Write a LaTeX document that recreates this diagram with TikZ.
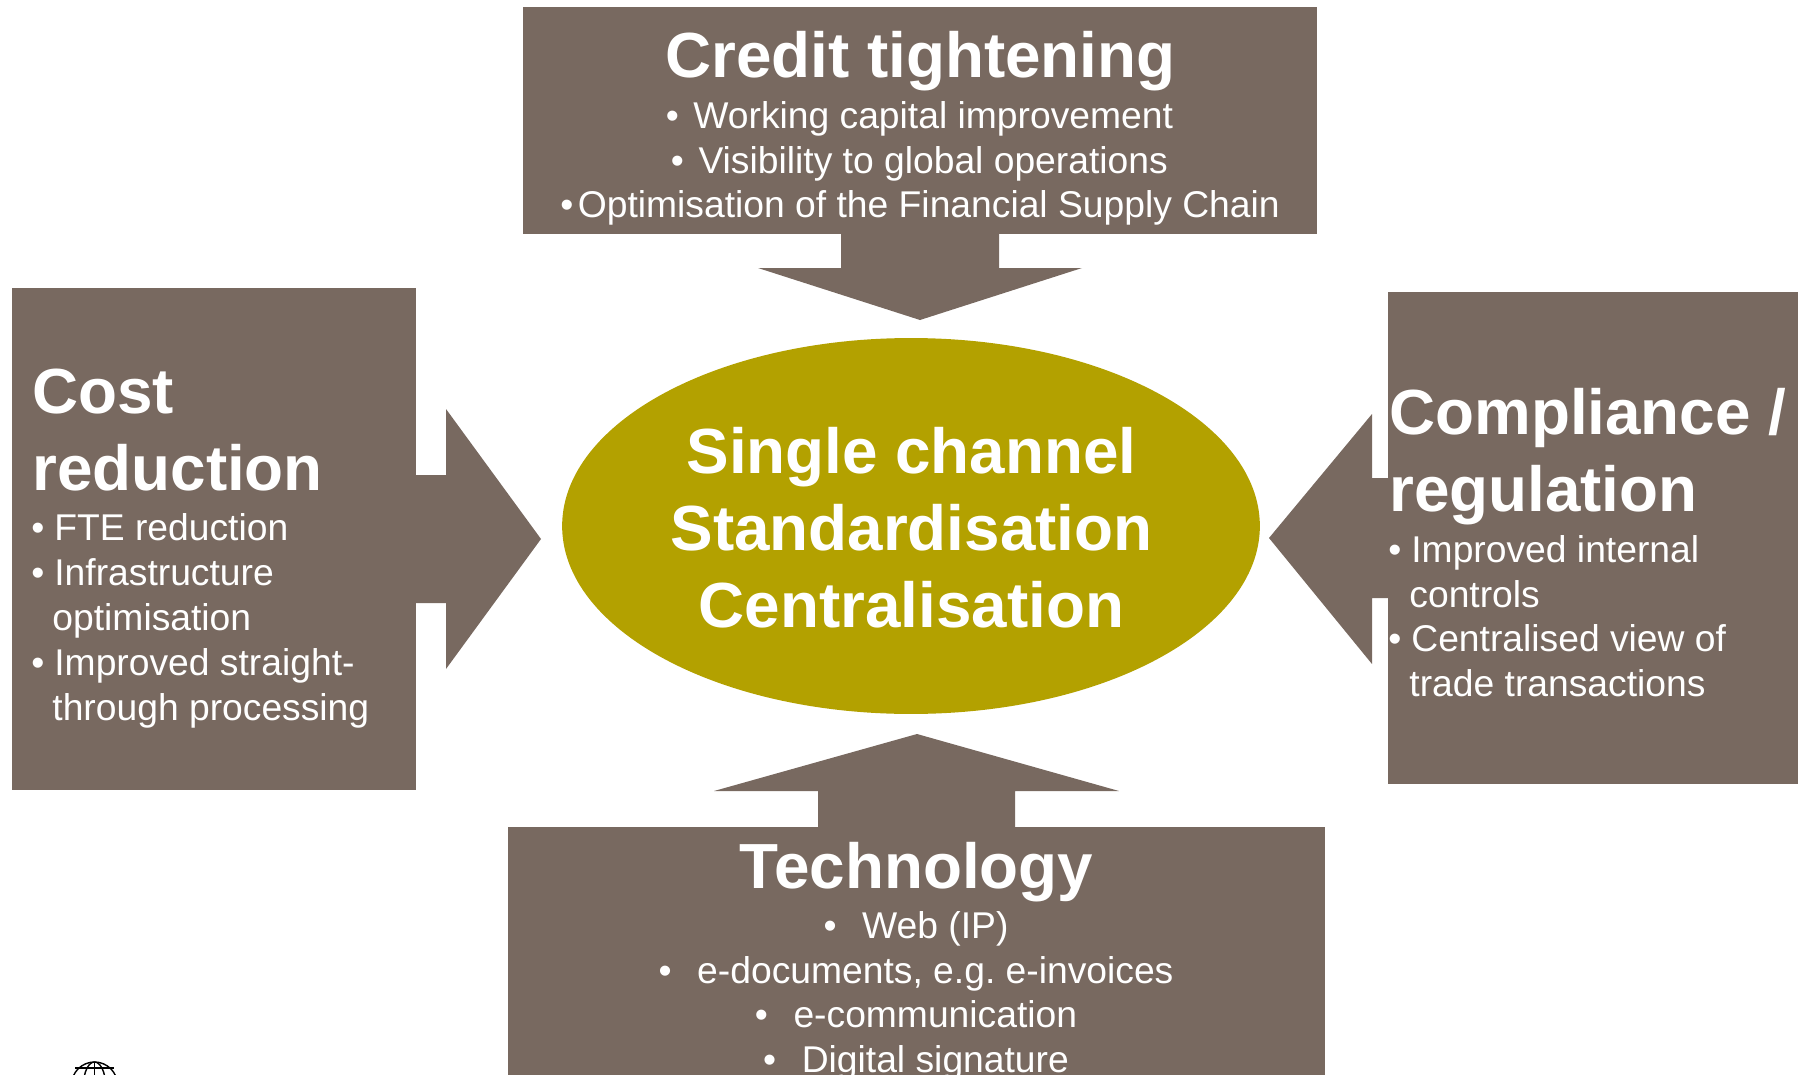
\documentclass[tikz,border=0pt]{standalone}
\usepackage{fontspec}
\setmainfont{Liberation Sans}
\definecolor{boxbrown}{RGB}{120,105,96}
\definecolor{hubolive}{RGB}{179,161,0}

\begin{document}
\begin{tikzpicture}[
        x=0.02cm,y=-0.02cm,
        driver/.style={rectangle,fill=boxbrown,inner sep=0pt},
        push/.style={fill=boxbrown},
        heading/.style={font=\bfseries\fontsize{36.3}{43.8}\selectfont,text=white,inner sep=0pt},
        points/.style={font=\fontsize{21.2}{25.5}\selectfont,text=white,inner sep=0pt},
        globeline/.style={draw=black,line width=0.8pt},
      ]
      \clip (0,0) rectangle (1803,1075);
      \useasboundingbox (0,0) rectangle (1803,1075);
%
      \path[push] (841,233) -- (999,233) -- (999,268) -- (1082,268) -- (920,320) -- (758,268) -- (841,268) -- cycle;
      \path[push] (415,475) -- (446,475) -- (446,409) -- (541,539) -- (446,669) -- (446,603) -- (415,603) -- cycle;
      \path[push] (1388,478) -- (1372,478) -- (1372,414) -- (1269,538) -- (1372,664) -- (1372,598) -- (1388,598) -- cycle;
      \path[push] (818,827) -- (818,791) -- (714,791) -- (917,734) -- (1119,791) -- (1015,791) -- (1015,827) -- cycle;
%
      \node[driver,minimum width=15.88cm,minimum height=4.54cm] at (920,120.5) (Credit) {};
      \node[driver,minimum width=8.08cm,minimum height=10.06cm] at (214,539) (Cost) {};
      \node[driver,minimum width=8.2cm,minimum height=9.84cm] at (1593,538) (Compliance) {};
      \node[driver,minimum width=16.34cm,minimum height=5.5cm] at (916.5,964.5) (Technology) {};
      \node[circle,fill=hubolive,inner sep=0pt,minimum size=7.52cm,xscale=1.856] at (911,526) (Hub) {};
%
      \node[heading,anchor=north] at (920.5,31) (Credittitle) {Credit tightening};
      \node[points,anchor=north,align=center] at (920,101) (Creditlist) {\hspace*{-0.7pt}•\hspace{8.3pt}Working capital improvement\\\hspace*{-0.7pt}•\hspace{8.3pt}Visibility to global operations\\•\hspace{2.6pt}Optimisation of the Financial Supply Chain};
%
      \node[heading,anchor=north west,align=left] at (32,369) (Costtitle) {Cost\\reduction};
      \node[points,anchor=north west,align=left] at (31,513.5) (Costlist) {•\hspace{5.7pt}FTE reduction\\•\hspace{5.7pt}Infrastructure\\\hspace*{12pt}optimisation\\•\hspace{5.7pt}Improved straight-\\\hspace*{12pt}through processing};
%
      \node[heading,anchor=north west,align=left] at (1389,387.5) (Compliancetitle) {Compliance /\\regulation};
      \node[points,anchor=north west,align=left] at (1388,535) (Compliancelist) {•\hspace{5.7pt}Improved internal\\\hspace*{12pt}controls\\•\hspace{5.7pt}Centralised view of\\\hspace*{12pt}trade transactions};
%
      \node[heading,anchor=center,align=center] at (911.5,528) (Hubtext) {Single channel\\Standardisation\\Centralisation};
%
      \node[heading,anchor=north] at (916.5,841.5) (Technologytitle) {Technology};
      \node[points,anchor=north,align=center] at (916,911) (Technologylist) {•\hspace{14.6pt}Web (IP)\\•\hspace{14.6pt}e-documents, e.g.\ e-invoices\\•\hspace{14.6pt}e-communication\\•\hspace{14.6pt}Digital signature};
%
      \draw[globeline] (94.5,1085) circle (23);
      \draw[globeline] (94.5,1085) ellipse (11 and 23);
      \draw[globeline] (94.5,1062) -- (94.5,1075);
      \draw[globeline] (75,1068) -- (114,1068);
    \end{tikzpicture}
\end{document}
